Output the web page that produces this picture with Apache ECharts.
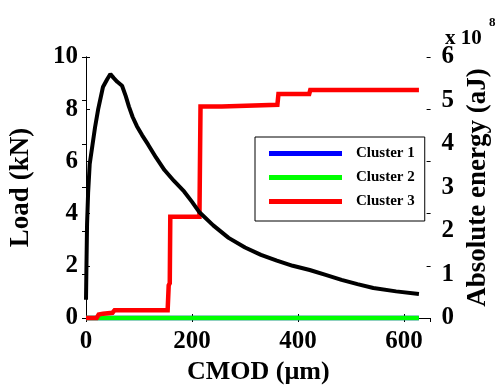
<!DOCTYPE html>
<html>
<head>
<meta charset="utf-8">
<script src="https://cdn.jsdelivr.net/npm/echarts@6/dist/echarts.min.js"></script>
<style>
  html, body { margin: 0; padding: 0; background: #fff; }
  #chart { width: 500px; height: 390px; }
</style>
</head>
<body>
<div id="chart"></div>
<script>
// Load vs CMOD (left axis, kN)
const loadCmod = [0, 1, 2, 4, 7, 12, 17, 23, 32, 40, 46, 52, 59, 68, 75, 81, 88, 96, 106, 117, 132, 148, 166, 185, 200, 214, 240, 269, 300, 330, 360, 390, 422, 452, 482, 512, 542, 585, 628];
const loadKN   = [0.7, 2.2, 3.6, 4.8, 5.9, 6.6, 7.3, 8.0, 8.85, 9.15, 9.35, 9.2, 9.05, 8.9, 8.5, 8.1, 7.7, 7.35, 7.0, 6.65, 6.15, 5.67, 5.25, 4.85, 4.45, 4.05, 3.55, 3.07, 2.7, 2.42, 2.2, 2.0, 1.84, 1.65, 1.46, 1.3, 1.15, 1.02, 0.92];

// Cumulative absolute energy per cluster (right axis, x 10^8 aJ)
const cluster1Cmod = [0, 628];
const cluster1Energy = [0, 0];
const cluster2Cmod = [0, 628];
const cluster2Energy = [0, 0];
const cluster3Cmod   = [0, 20, 24, 32, 50, 54, 154, 155, 156, 158, 159, 214, 216, 256, 258, 361, 363, 421, 423, 628];
const cluster3Energy = [0, 0, 0.08, 0.1, 0.12, 0.18, 0.18, 0.2, 0.75, 0.8, 2.33, 2.33, 4.86, 4.86, 4.9, 4.9, 5.15, 5.15, 5.24, 5.24];

const seriesNames = ['Cluster 1', 'Cluster 2', 'Cluster 3'];
const xTicks = { min: 0, max: 650, interval: 200 };
const loadTicks = { min: 0, max: 10, interval: 2 };
const energyTicks = { min: 0, max: 6, interval: 1 };

const pairs = (xs, ys) => xs.map((x, i) => [x, ys[i]]);

const font = '"Liberation Serif", "Times New Roman", serif';
const tickFont = { fontFamily: font, fontWeight: 'bold', fontSize: 25, color: '#000' };
const xNameFont = { fontFamily: font, fontWeight: 'bold', fontSize: 26, color: '#000' };
const yNameFont = { fontFamily: font, fontWeight: 'bold', fontSize: 27, color: '#000' };
const blackLine = { show: true, lineStyle: { color: '#000', width: 1 } };
const inTicks = { show: true, inside: true, length: 4, lineStyle: { color: '#000' } };

const chart = echarts.init(document.getElementById('chart'));
chart.setOption({
  animation: false,
  backgroundColor: '#fff',
  grid: { left: 85.5, right: 58.5, top: 57, bottom: 72, containLabel: false },
  legend: {
    data: seriesNames,
    orient: 'vertical',
    left: 255,
    top: 137,
    width: 168,
    icon: 'rect',
    itemWidth: 73,
    itemHeight: 5,
    itemGap: 9,
    padding: [9, 10, 12, 14],
    borderColor: '#000',
    borderWidth: 1,
    backgroundColor: '#fff',
    textStyle: { fontFamily: font, fontWeight: 'bold', fontSize: 15, color: '#000', padding: [0, 0, 0, 9] }
  },
  xAxis: [
    {
      type: 'value', position: 'bottom',
      min: xTicks.min, max: xTicks.max, interval: xTicks.interval,
      name: 'CMOD (µm)', nameLocation: 'middle', nameGap: 36, nameTextStyle: xNameFont,
      axisLine: blackLine, axisTick: inTicks,
      axisLabel: Object.assign({ margin: 11, showMaxLabel: false }, tickFont),
      splitLine: { show: false }
    },
    {
      type: 'value', position: 'top',
      min: xTicks.min, max: xTicks.max, interval: xTicks.interval,
      axisLine: blackLine, axisTick: inTicks,
      axisLabel: { show: false },
      splitLine: { show: false }
    }
  ],
  yAxis: [
    {
      type: 'value', position: 'left',
      min: loadTicks.min, max: loadTicks.max, interval: loadTicks.interval,
      name: 'Load (kN)', nameLocation: 'middle', nameGap: 51, nameRotate: 90, nameTextStyle: yNameFont,
      axisLine: blackLine, axisTick: inTicks,
      axisLabel: Object.assign({ margin: 8 }, tickFont),
      splitLine: { show: false }
    },
    {
      type: 'value', position: 'right',
      min: energyTicks.min, max: energyTicks.max, interval: energyTicks.interval,
      name: 'Absolute energy (aJ)', nameLocation: 'middle', nameGap: 30, nameRotate: 90, nameTextStyle: yNameFont,
      axisLine: blackLine, axisTick: inTicks,
      axisLabel: Object.assign({ margin: 11 }, tickFont),
      splitLine: { show: false }
    },
    {
      // load ticks repeated on the right edge of the box
      type: 'value', position: 'right',
      min: loadTicks.min, max: loadTicks.max, interval: loadTicks.interval,
      axisLine: { show: false }, axisTick: inTicks,
      axisLabel: { show: false },
      splitLine: { show: false }
    }
  ],
  graphic: [
    { type: 'text', left: 445, top: 28, style: { text: 'x 10', font: 'bold 21px ' + font, fill: '#000' } },
    { type: 'text', left: 489, top: 16, style: { text: '8', font: 'bold 13px ' + font, fill: '#000' } }
  ],
  series: [
    {
      name: 'Cluster 1', type: 'line', xAxisIndex: 0, yAxisIndex: 1,
      data: pairs(cluster1Cmod, cluster1Energy), showSymbol: false, clip: false,
      lineStyle: { color: '#0000ff', width: 4.5 }, itemStyle: { color: '#0000ff' }, z: 2
    },
    {
      name: 'Cluster 2', type: 'line', xAxisIndex: 0, yAxisIndex: 1,
      data: pairs(cluster2Cmod, cluster2Energy), showSymbol: false, clip: false,
      lineStyle: { color: '#00ff00', width: 4.5 }, itemStyle: { color: '#00ff00' }, z: 3
    },
    {
      name: 'Cluster 3', type: 'line', xAxisIndex: 0, yAxisIndex: 1,
      data: pairs(cluster3Cmod, cluster3Energy), showSymbol: false, clip: false,
      lineStyle: { color: '#ff0000', width: 4.5, join: 'miter' }, itemStyle: { color: '#ff0000' }, z: 4
    },
    {
      name: 'Load', type: 'line', xAxisIndex: 0, yAxisIndex: 0,
      data: pairs(loadCmod, loadKN), showSymbol: false, clip: false,
      lineStyle: { color: '#000', width: 4 }, itemStyle: { color: '#000' }, z: 5
    }
  ]
});
</script>
</body>
</html>
